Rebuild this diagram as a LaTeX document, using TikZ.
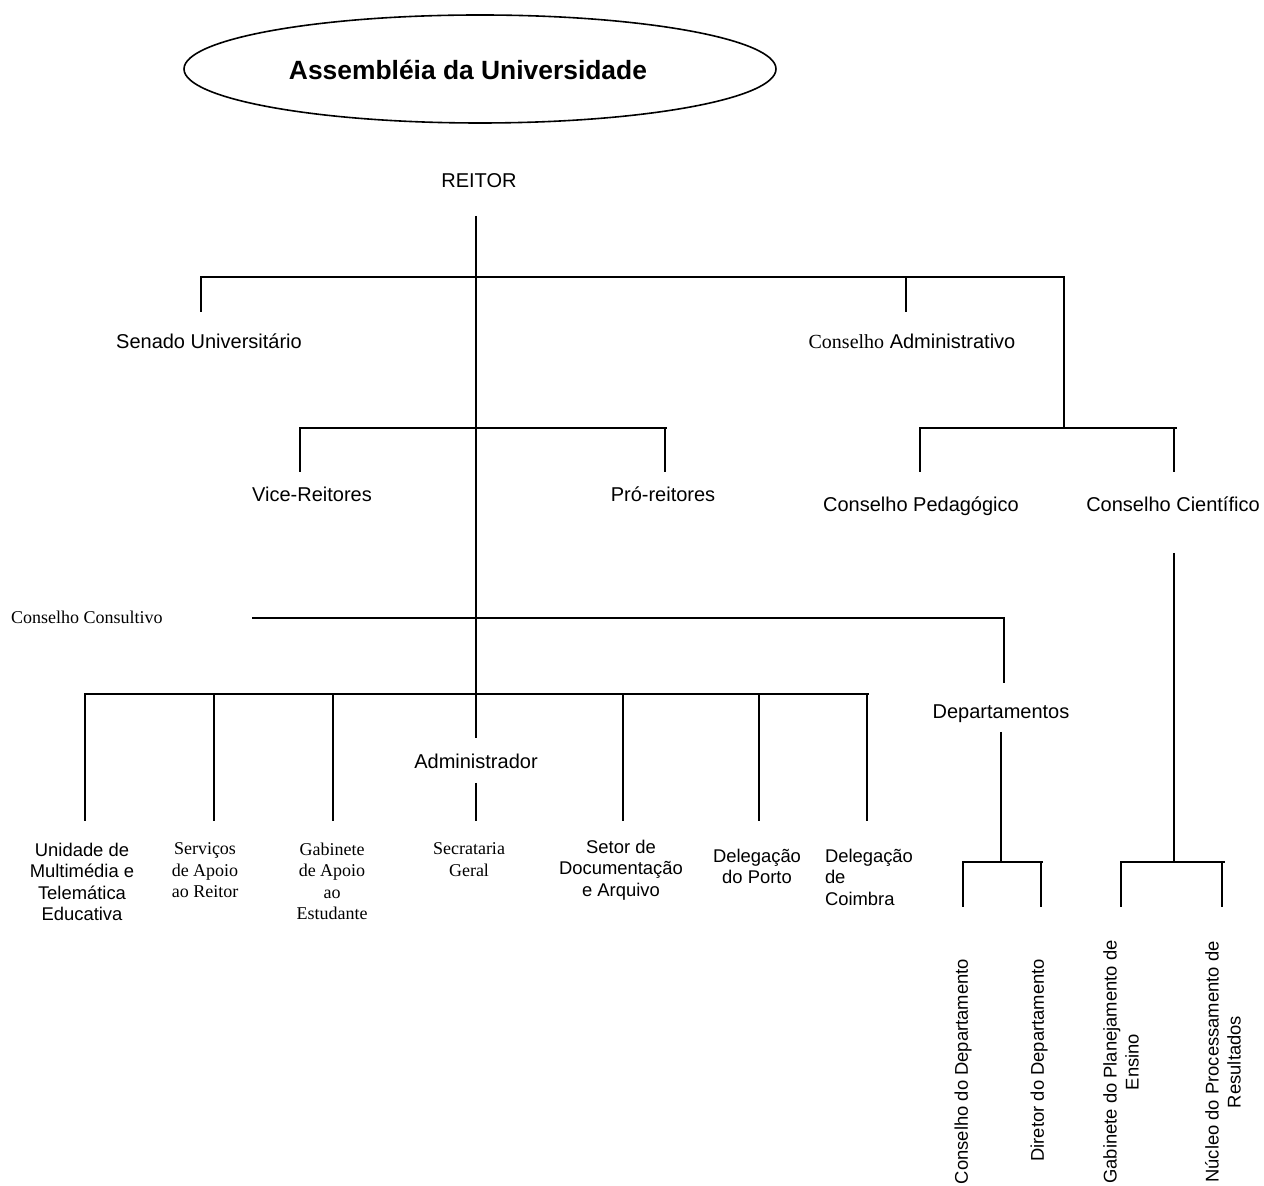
\documentclass[tikz,border=0pt]{standalone}
\usepackage{fontspec}
\setmainfont{Liberation Sans}
\newfontfamily\timesfont{Liberation Serif}
\usetikzlibrary{shapes.geometric}
\begin{document}
\begin{tikzpicture}[x=0.5pt,y=-0.5pt,
  every node/.style={inner sep=0pt, outer sep=0pt},
  unit/.style={font=\fontsize{10}{12}\selectfont, anchor=base},
  leaf/.style={font=\fontsize{9.2}{10.75}\selectfont, align=center, anchor=north},
  leafserif/.style={font=\timesfont\fontsize{9}{10.75}\selectfont, align=center, anchor=north},
  upright/.style={font=\fontsize{9.2}{11}\selectfont, rotate=90, align=center},
  link/.style={line width=1pt}]

\useasboundingbox (0,0) rectangle (1264,1186);

% governing assembly
\node[draw, ellipse, line width=0.8pt, minimum width=296pt, minimum height=54pt] (assembleia) at (480,69) {};
\node[font=\bfseries\fontsize{13.2}{16}\selectfont] (assembleiatxt) at (468,70) {Assembléia da Universidade};

% upper levels
\node[unit] (reitor) at (479,188) {REITOR};
\node[unit] (senado) at (209,349) {Senado Universitário};
\node[unit] (consadm) at (912,349) {{\timesfont Conselho} Administrativo};
\node[unit] (vice) at (312,502) {Vice-Reitores};
\node[unit] (pro) at (663,502) {Pró-reitores};
\node[unit] (pedag) at (921,512) {Conselho Pedagógico};
\node[unit] (cient) at (1173,512) {Conselho Científico};
\node[font=\timesfont\fontsize{9}{11}\selectfont, anchor=west] (consult) at (11,617) {Conselho Consultivo};
\node[unit] (depto) at (1001,719) {Departamentos};
\node[unit] (admin) at (476,769) {Administrador};

% units under the rector
\node[leaf] (unidade) at (82,843) {Unidade de\\Multimédia e\\Telemática\\Educativa};
\node[leafserif] (servicos) at (205,843) {Serviços\\de Apoio\\ao Reitor};
\node[leafserif] (gabapoio) at (332,843) {Gabinete\\de Apoio\\ao\\Estudante};
\node[leafserif] (secretaria) at (469,843) {Secrataria\\Geral};
\node[leaf] (setor) at (621,840) {Setor de\\Documentação\\e Arquivo};
\node[leaf] (delporto) at (757,849) {Delegação\\do Porto};
\node[leaf, align=left, anchor=north west] (delcoimbra) at (825,849) {Delegação\\de\\Coimbra};

% departmental and scientific bodies
\node[upright, anchor=east] (consdep) at (963,959) {Conselho do Departamento};
\node[upright, anchor=east] (dirdep) at (1039,959) {Diretor do Departamento};
\node[upright] (gabplan) at (1121,1062) {Gabinete do Planejamento de\\Ensino};
\node[upright] (nucleo) at (1223,1062) {Núcleo do Processamento de\\Resultados};

% rector trunk and first bus
\coordinate (r0) at (476,216);
\coordinate (r1) at (476,738);
\coordinate (b1w) at (201,277);
\coordinate (b1e) at (1064,277);
\coordinate (sen) at (201,312);
\coordinate (adm0) at (906,277);
\coordinate (adm1) at (906,312);
\coordinate (b3c) at (1064,428);
\draw[link] (r0) -- (r1);
\draw[link] (sen) -- (b1w) -- (b1e) -- (b3c);
\draw[link] (adm0) -- (adm1);

% vice-rectors and pro-rectors
\coordinate (b2w) at (300,428);
\coordinate (b2e) at (667,428);
\coordinate (vi) at (300,472);
\coordinate (pr0) at (665,428);
\coordinate (pr1) at (665,472);
\draw[link] (vi) -- (b2w) -- (b2e);
\draw[link] (pr0) -- (pr1);

% pedagogical and scientific councils
\coordinate (b3w) at (920,428);
\coordinate (b3e) at (1177,428);
\coordinate (pe) at (920,472);
\coordinate (ci0) at (1174,428);
\coordinate (ci1) at (1174,472);
\draw[link] (pe) -- (b3w) -- (b3e);
\draw[link] (ci0) -- (ci1);

% consultative council line to the departments
\coordinate (cw) at (252,618);
\coordinate (ce) at (1004,618);
\coordinate (cd) at (1004,683);
\draw[link] (cw) -- (ce) -- (cd);

% bottom bus and its drops
\coordinate (b4w) at (85,694);
\coordinate (b4e) at (869,694);
\coordinate (u1) at (85,821);
\coordinate (s0t) at (214,694);  \coordinate (s0b) at (214,821);
\coordinate (g0t) at (333,694);  \coordinate (g0b) at (333,821);
\coordinate (d0t) at (623,694);  \coordinate (d0b) at (623,821);
\coordinate (p0t) at (759,694);  \coordinate (p0b) at (759,821);
\coordinate (c0t) at (867,694);  \coordinate (c0b) at (867,821);
\draw[link] (u1) -- (b4w) -- (b4e);
\draw[link] (s0t) -- (s0b);
\draw[link] (g0t) -- (g0b);
\draw[link] (d0t) -- (d0b);
\draw[link] (p0t) -- (p0b);
\draw[link] (c0t) -- (c0b);

% administrator to general secretariat
\coordinate (ad0) at (476,783);
\coordinate (ad1) at (476,821);
\draw[link] (ad0) -- (ad1);

% departments branch
\coordinate (dp0) at (1001,732);
\coordinate (dp1) at (1001,862);
\coordinate (dbw) at (963,862);
\coordinate (dbe) at (1043,862);
\coordinate (dl) at (963,907);
\coordinate (dr0) at (1041,862);
\coordinate (dr1) at (1041,907);
\draw[link] (dp0) -- (dp1);
\draw[link] (dl) -- (dbw) -- (dbe);
\draw[link] (dr0) -- (dr1);

% scientific council branch
\coordinate (sc0) at (1174,553);
\coordinate (sc1) at (1174,862);
\coordinate (sbw) at (1121,862);
\coordinate (sbe) at (1225,862);
\coordinate (sl) at (1121,907);
\coordinate (sr0) at (1222,862);
\coordinate (sr1) at (1222,907);
\draw[link] (sc0) -- (sc1);
\draw[link] (sl) -- (sbw) -- (sbe);
\draw[link] (sr0) -- (sr1);
\end{tikzpicture}
\end{document}
